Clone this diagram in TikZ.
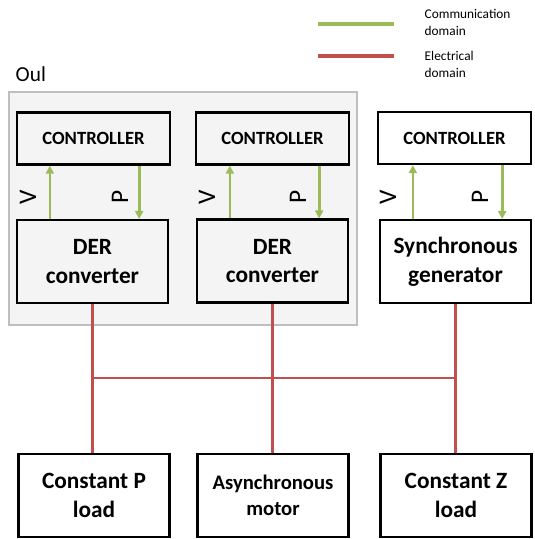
\documentclass[tikz,border=0pt]{standalone}
\usepackage{fontspec}
\setmainfont{Carlito}
\usepackage{tikz}
\usetikzlibrary{arrows.meta}

\definecolor{commgreen}{HTML}{9BBB59}
\definecolor{elecred}{HTML}{C0504D}
\definecolor{oulgray}{HTML}{BFBFBF}
\definecolor{oulfill}{HTML}{F4F4F4}

\begin{document}
\begin{tikzpicture}[x=0.75pt,y=-0.75pt,
	block/.style={draw,line width=1.8pt,align=center,inner sep=0},
	ctrl/.style={block,minimum width=115pt,minimum height=39pt,
		font=\bfseries\fontsize{14}{16}\selectfont},
	unit/.style={block,minimum width=113pt,minimum height=62pt,
		font=\bfseries\fontsize{17.5}{21.5}\selectfont},
	comm/.style={draw=commgreen,line width=2pt},
	elec/.style={draw=elecred,line width=2pt},
	sig/.style={rotate=90,font=\fontsize{19}{22}\selectfont}]
		
		\useasboundingbox (0,0) rectangle (535,539);
		
		% Oul area
		\node[draw=oulgray,
		fill=oulfill,
		line width=1.5pt,
		minimum width=261pt,
		minimum height=175pt] (oulbox) at (183,208.5) {};
		
		\node[anchor=west,
		font=\fontsize{16}{19}\selectfont] (oul) at (11,74) {Oul};
		
		% Controllers
		\node[ctrl] (ctrl1) at (93.5,138.5) {CONTROLLER};
		\node[ctrl] (ctrl2) at (272.5,138.5) {CONTROLLER};
		\node[ctrl] (ctrl3) at (454.5,138) {CONTROLLER};
		
		% Sources
		\node[unit] (der1) at (92.5,261.5) {DER\\converter};
		\node[unit] (der2) at (272.5,261) {DER\\converter};
		\node[unit] (sgen) at (455.5,261.5) {Synchronous\\generator};
		
		% Loads
		\node[unit] (loadp) at (94,495.5) {Constant P\\load};
		\node[unit,
		font=\bfseries\fontsize{15.5}{19.5}\selectfont] (motor) at (273,495.5) {Asynchronous\\motor};
		\node[unit] (loadz) at (456,495.5) {Constant Z\\load};
		
		% Signal labels
		\node[sig] (v1) at (28,197) {V};
		\node[sig] (p1) at (120,197) {P};
		\node[sig] (v2) at (207,197) {V};
		\node[sig] (p2) at (298,197) {P};
		\node[sig] (v3) at (388,197) {V};
		\node[sig] (p3) at (480,197) {P};
		
		% Communication
		\draw[comm,-{Triangle[length=6pt,width=6pt]}] ([xshift=-32pt]der1.north) -- ([xshift=-32pt]der1.north |- ctrl1.south);
		\draw[comm,-{Triangle[length=6pt,width=6pt]}] ([xshift=35pt]ctrl1.south -| der1.north) -- ([xshift=35pt]der1.north);
		\draw[comm,-{Triangle[length=6pt,width=6pt]}] ([xshift=-32pt]der2.north) -- ([xshift=-32pt]der2.north |- ctrl2.south);
		\draw[comm,-{Triangle[length=6pt,width=6pt]}] ([xshift=35pt]ctrl2.south -| der2.north) -- ([xshift=35pt]der2.north);
		\draw[comm,-{Triangle[length=6pt,width=6pt]}] ([xshift=-32pt]sgen.north) -- ([xshift=-32pt]sgen.north |- ctrl3.south);
		\draw[comm,-{Triangle[length=6pt,width=6pt]}] ([xshift=35pt]ctrl3.south -| sgen.north) -- ([xshift=35pt]sgen.north);
		
		% Electrical
		\coordinate (bus) at (0,378);
		\draw[elec] (der1.south) -- (der1.south |- loadp.north);
		\draw[elec] (der2.south) -- (der2.south |- motor.north);
		\draw[elec] (sgen.south) -- (sgen.south |- loadz.north);
		\draw[elec] (der1.south |- bus) -- (sgen.south |- bus);
		
		% Legend
		\coordinate (lgcomm) at (318,24);
		\coordinate (lgelec) at (318,56);
		\draw[comm,line width=2.5pt] (lgcomm) -- ++(76,0);
		\draw[elec,line width=2.5pt] (lgelec) -- ++(76,0);
		
		\node[anchor=west,
		align=left,
		font=\fontsize{10}{12.75}\selectfont] (commtxt) at (420,22.5) {Communication\\domain};
		\node[anchor=west,
		align=left,
		font=\fontsize{10}{12.75}\selectfont] (electxt) at (420,64) {Electrical\\domain};
		
		\end{tikzpicture}
\end{document}
